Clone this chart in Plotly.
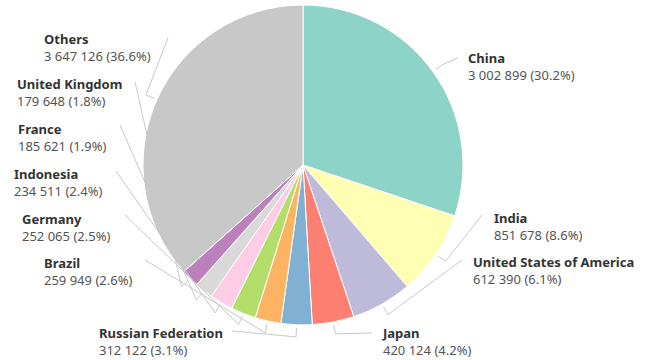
import math
import plotly.graph_objects as go

# Population by country
countries = ["China", "India", "United States of America", "Japan", "Russian Federation",
             "Brazil", "Germany", "Indonesia", "France", "United Kingdom", "Others"]
values = [3002899, 851678, 612390, 420124, 312122, 259949, 252065, 234511, 185621, 179648, 3647126]
colors = ["#8dd3c7", "#ffffb3", "#bebada", "#fb8072", "#80b1d3", "#fdb462",
          "#b3de69", "#fccde5", "#d9d9d9", "#bc80bd", "#c8c8c8"]

# Layout (pixels): canvas, pie centre and radius, label placements
W, H = 648, 360
CX, CY, R = 303, 165, 160
label_xy = [(466, 66), (492, 226), (471, 270), (380, 341), (97, 341), (42, 271),
            (20, 227), (12, 182), (16, 137), (15, 92), (42, 48)]
leader_end = [(458, 58), (482, 215), (462, 260), (372, 333), (232, 331), (145, 260),
              (125, 215), (116, 171), (120, 125), (135, 82), (168, 38)]


def px(x):
    return x / W


def py(y):
    return 1 - y / H


total = sum(values)

fig = go.Figure(go.Pie(
    labels=countries,
    values=values,
    sort=False,
    direction="clockwise",
    rotation=0,
    textinfo="none",
    marker=dict(colors=colors, line=dict(color="white", width=1)),
    domain=dict(x=[px(CX - R), px(CX + R)], y=[py(CY + R), py(CY - R)]),
    showlegend=False,
))

shapes = []
annotations = []
cum = 0
for name, v, (lx, ly), (ex, ey) in zip(countries, values, label_xy, leader_end):
    mid = (cum + v / 2) / total * 2 * math.pi
    cum += v
    sx, sy = CX + (R + 3) * math.sin(mid), CY - (R + 3) * math.cos(mid)
    kx, ky = CX + (R + 12) * math.sin(mid), CY - (R + 12) * math.cos(mid)
    path = f"M {px(sx)},{py(sy)} L {px(kx)},{py(ky)} L {px(ex)},{py(ey)}"
    shapes.append(dict(type="path", path=path, xref="paper", yref="paper",
                       line=dict(color="#c8c8c8", width=1)))
    num = f"{v:,}".replace(",", " ")
    pct = f"{v / total * 100:.1f}%"
    annotations.append(dict(
        x=px(lx), y=py(ly), xref="paper", yref="paper",
        xanchor="left", yanchor="middle", align="left", showarrow=False,
        text=f"<b><span style='color:#333333'>{name}</span></b><br>"
             f"<span style='color:#555555'>{num} ({pct})</span>",
        font=dict(family="Noto Sans", size=13, color="#444444"),
    ))

fig.update_layout(
    width=W, height=H,
    margin=dict(l=0, r=0, t=0, b=0),
    paper_bgcolor="white",
    plot_bgcolor="white",
    shapes=shapes,
    annotations=annotations,
)

fig.write_html("out.html")
